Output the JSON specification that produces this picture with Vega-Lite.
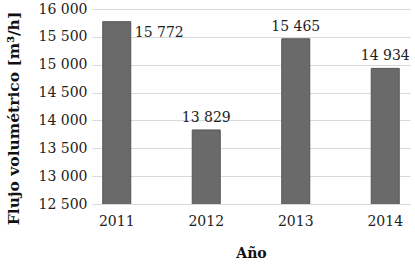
{
  "$schema": "https://vega.github.io/schema/vega-lite/v6.json",
  "autosize": "none",
  "width": 318,
  "height": 195,
  "padding": {"left": 92, "top": 9, "right": 5, "bottom": 61},
  "background": "white",
  "config": {
    "font": "DejaVu Serif",
    "view": {"stroke": null},
    "axis": {"labelFont": "DejaVu Serif", "labelFontSize": 14, "labelColor": "#222", "titleFont": "DejaVu Serif", "titleFontSize": 14, "titleFontWeight": "bold", "titleColor": "#111"}
  },
  "data": {"values": [
    {"year": "2011", "flow": 15772},
    {"year": "2012", "flow": 13829},
    {"year": "2013", "flow": 15465},
    {"year": "2014", "flow": 14934}
  ]},
  "encoding": {
    "x": {"field": "year", "type": "ordinal", "title": "Año",
      "scale": {"paddingInner": 0.687, "paddingOuter": 0.12},
      "axis": {"labelAngle": 0, "ticks": false, "domain": false, "labelPadding": 10, "titlePadding": 18}},
    "y": {"field": "flow", "type": "quantitative", "title": "Flujo volumétrico [m³/h]",
      "scale": {"domain": [12500, 16000], "nice": false, "zero": false},
      "axis": {"values": [12500, 13000, 13500, 14000, 14500, 15000, 15500, 16000], "labelExpr": "replace(format(datum.value, ','), ',', ' ')", "ticks": false, "domain": false, "gridColor": "#d9d9d9", "labelPadding": 5, "titleFontSize": 15.5, "titleY": 109, "titleX": -79, "titleAlign": "center", "titleBaseline": "middle"}}
  },
  "layer": [
    {"mark": {"type": "bar", "fill": "#6a6a6a", "stroke": "#555555", "strokeWidth": 1, "clip": true}},
    {"transform": [{"filter": "datum.year == '2011'"}],
     "mark": {"type": "text", "align": "left", "baseline": "middle", "dx": 18, "dy": 11, "fontSize": 14, "color": "#222", "text": {"expr": "replace(format(datum.flow, ','), ',', ' ')"}}},
    {"transform": [{"filter": "datum.year != '2011'"}],
     "mark": {"type": "text", "align": "center", "baseline": "middle", "dy": -12, "fontSize": 14, "color": "#222", "text": {"expr": "replace(format(datum.flow, ','), ',', ' ')"}}}
  ]
}
